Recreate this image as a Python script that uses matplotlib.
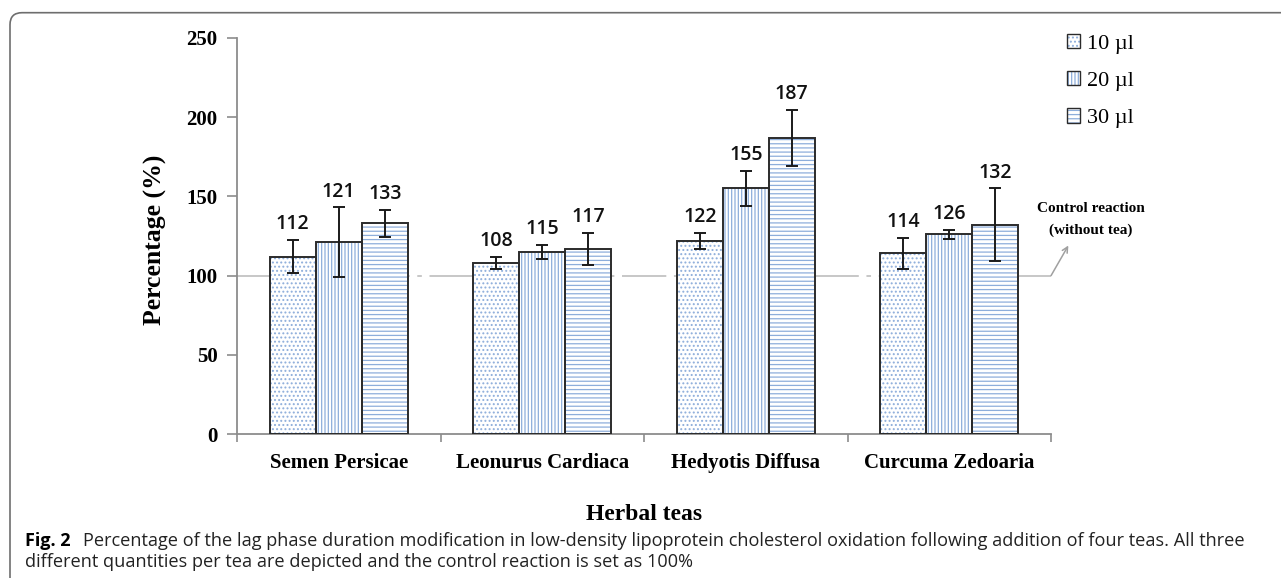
import matplotlib.pyplot as plt
from matplotlib.patches import Patch, FancyBboxPatch
from matplotlib.legend_handler import HandlerTuple
import numpy as np

# data
teas = ["Semen Persicae", "Leonurus Cardiaca", "Hedyotis Diffusa", "Curcuma Zedoaria"]
doses = ["10 \u00b5l", "20 \u00b5l", "30 \u00b5l"]
vals_10 = [112, 108, 122, 114]
vals_20 = [121, 115, 155, 126]
vals_30 = [133, 117, 187, 132]
err_10 = [10.5, 4, 5, 10]
err_20 = [22, 4.5, 11, 3]
err_30 = [8.5, 10, 17.5, 23]

serif = "Liberation Serif"
hatch_col = "#8eaedb"
edge_col = "#2b2b2b"
axis_col = "#8c8c8c"
hatches = ["....", "|||||", "----"]

plt.rcParams["hatch.linewidth"] = 0.9

fig = plt.figure(figsize=(12.81, 5.78), dpi=100)
ax = fig.add_axes([0.185, 0.2491, 0.6355, 0.6852])

x = np.arange(len(teas))
w = 0.226
series = [(vals_10, err_10), (vals_20, err_20), (vals_30, err_30)]
for i, (v, e) in enumerate(series):
    pos = x + (i - 1) * w
    # hatch layer, then outline
    ax.bar(pos, v, w, color="white", edgecolor=hatch_col, hatch=hatches[i], lw=0, zorder=2)
    ax.bar(pos, v, w, color="none", edgecolor=edge_col, lw=1.4, zorder=3)
    ax.errorbar(pos, v, yerr=e, fmt="none", ecolor="#1a1a1a", elinewidth=1.4,
                capsize=4.5, capthick=1.4, zorder=4)
    for px, vv, ee in zip(pos, v, e):
        ax.annotate(str(vv), (px, vv + ee), xytext=(0, 4), textcoords="offset points",
                    ha="center", va="bottom", fontsize=14, family="Open Sans",
                    fontweight="semibold", color="#111111")

# control reaction line
ax.axhline(100, color="#b8b8b8", lw=1.1, dashes=(29, 5, 3, 5), zorder=1)
ax.annotate("", xy=(3.585, 119), xytext=(3.5, 100),
            arrowprops=dict(arrowstyle="->", color="#a0a0a0", lw=1.1,
                            shrinkA=0, shrinkB=0), annotation_clip=False)
ax.text(3.697, 135.4, "Control reaction\n(without tea)", ha="center", va="center",
        family=serif, fontweight="bold", fontsize=11, linespacing=1.85)

ax.set_xlim(-0.5, 3.5)
ax.set_ylim(0, 250)
ax.set_yticks(range(0, 251, 50))
ax.set_yticklabels([str(t) for t in range(0, 251, 50)], family=serif,
                   fontweight="bold", fontsize=15)
ax.set_xticks(np.arange(-0.5, 3.6, 1))
ax.set_xticklabels([])
ax.set_xticks(x, minor=True)
ax.set_xticklabels(teas, minor=True, family=serif, fontweight="bold", fontsize=15)
ax.tick_params(axis="x", which="minor", length=0, pad=14)
ax.tick_params(axis="x", which="major", length=6, color=axis_col, width=1.2)
ax.tick_params(axis="y", length=7, color=axis_col, width=1.2, pad=7)

for s in ["top", "right"]:
    ax.spines[s].set_visible(False)
for s in ["left", "bottom"]:
    ax.spines[s].set_color(axis_col)
    ax.spines[s].set_linewidth(1.3)

fig.text(155 / 1281, 1 - 240 / 578, "Percentage (%)", rotation=90, ha="center",
         va="center", family=serif, fontweight="bold", fontsize=18.5)
fig.text(644 / 1281, 1 - 514 / 578, "Herbal teas", ha="center", va="center",
         family=serif, fontweight="bold", fontsize=17)

# legend
handles = [(Patch(facecolor="white", edgecolor=hatch_col, hatch=h, lw=0),
            Patch(facecolor="none", edgecolor=edge_col, lw=1.0)) for h in hatches]
fig.legend(handles, doses, handler_map={tuple: HandlerTuple(ndivide=1, pad=0)},
           loc="upper left", bbox_to_anchor=(1067 / 1281, 1 - 34 / 578),
           frameon=False, prop={"family": serif, "size": 16},
           handlelength=0.6, handleheight=0.6, handletextpad=0.3,
           labelspacing=0.78, borderpad=0, borderaxespad=0)

# caption
cap_font = "Open Sans"
fig.text(25 / 1281, 1 - 541 / 578, "Fig. 2", family=cap_font, fontweight="bold",
         fontsize=13, va="center", ha="left")
fig.text(83 / 1281, 1 - 541 / 578,
         "Percentage of the lag phase duration modification in low-density lipoprotein "
         "cholesterol oxidation following addition of four teas. All three",
         family=cap_font, fontsize=13.1, va="center", ha="left", color="#222222")
fig.text(25 / 1281, 1 - 562 / 578,
         "different quantities per tea are depicted and the control reaction is set as 100%",
         family=cap_font, fontsize=13.1, va="center", ha="left", color="#222222")

# rounded frame (top and left edges visible)
frame = FancyBboxPatch((0.1, -0.5), 14, 0.5 + 5.78 - 0.127,
                       boxstyle="round,pad=0,rounding_size=0.12",
                       transform=fig.dpi_scale_trans, fill=False,
                       edgecolor="#6e6e6e", lw=1.2, clip_on=False)
fig.patches.append(frame)

fig.savefig("out.png", dpi=100)
